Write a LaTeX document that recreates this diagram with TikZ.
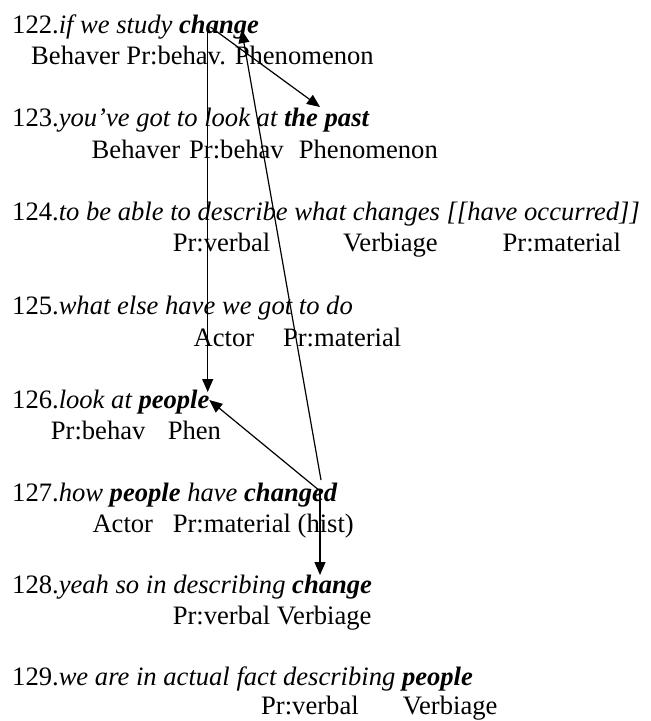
\documentclass[tikz,border=0pt]{standalone}
\usepackage{fontspec}
\setmainfont{Liberation Serif}
\usetikzlibrary{arrows.meta}

\begin{document}
\begin{tikzpicture}[
    x=1pt, y=-1pt,
    clause/.style={anchor=base west, inner sep=0pt, font=\fontsize{26.6}{31}\selectfont},
    role/.style={anchor=base west, inner sep=0pt, font=\fontsize{26.6}{31}\selectfont},
    arrow/.style={-{Triangle[length=13pt, width=11pt]}, line width=1.2pt}
]
\useasboundingbox (0,0) rectangle (651,721);

% clauses and their process/participant labels
\node[clause] (c122) at (12,33) {122.\textit{if we study \textbf{change}}};
\node[role] (r122) at (31,64.5) {Behaver Pr:behav. Phenomenon};

\node[clause] (c123) at (12,126.7) {123.\textit{you’ve got to look at \textbf{the past}}};
\node[role] (r123a) at (91.5,158.2) {Behaver};
\node[role] (r123b) at (189,158.2) {Pr:behav};
\node[role] (r123c) at (298.7,158.2) {Phenomenon};

\node[clause] (c124) at (12,220) {124.\textit{to be able to describe what changes [[have occurred]]}};
\node[role] (r124a) at (172.6,251.5) {Pr:verbal};
\node[role] (r124b) at (343,251.5) {Verbiage};
\node[role] (r124c) at (502.5,251.5) {Pr:material};

\node[clause] (c125) at (12,314.5) {125.\textit{what else have we got to do}};
\node[role] (r125a) at (193.4,346) {Actor};
\node[role] (r125b) at (282.9,346) {Pr:material};

\node[clause] (c126) at (12,408) {126.\textit{look at \textbf{people}}};
\node[role] (r126a) at (50.7,439.5) {Pr:behav};
\node[role] (r126b) at (167.6,439.5) {Phen};

\node[clause] (c127) at (12,501) {127.\textit{how \textbf{people} have \textbf{changed}}};
\node[role] (r127a) at (92.3,532.5) {Actor};
\node[role] (r127b) at (172.6,532.5) {Pr:material (hist)};

\node[clause] (c128) at (12,593) {128.\textit{yeah so in describing \textbf{change}}};
\node[role] (r128) at (172.6,624.5) {Pr:verbal Verbiage};

\node[clause] (c129) at (12,685) {129.\textit{we are in actual fact describing \textbf{people}}};
\node[role] (r129a) at (261,714) {Pr:verbal};
\node[role] (r129b) at (402.7,714) {Verbiage};

% ends of the links between the words
\coordinate (chg122a) at (207.7,27);
\coordinate (chg122b) at (210.5,27);
\coordinate (chg122c) at (241.7,30);
\coordinate (past123) at (320,107);
\coordinate (ppl126a) at (207.7,392);
\coordinate (ppl126b) at (209.3,400);
\coordinate (chgd127a) at (321,480);
\coordinate (chgd127b) at (320,491);
\coordinate (chg128) at (320,575);

\draw[arrow] (chg122a) -- (ppl126a);
\draw[arrow] (chg122b) -- (past123);
\draw[arrow] (chgd127a) -- (chg122c);
\draw[arrow] (chgd127b) -- (ppl126b);
\draw[arrow] (chgd127b) -- (chg128);
\end{tikzpicture}
\end{document}
